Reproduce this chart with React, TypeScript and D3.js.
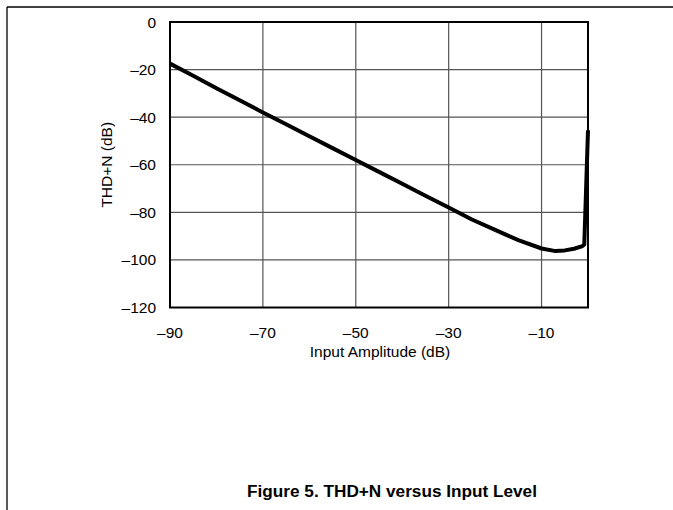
import React from "react";
import * as d3 from "d3";

const inputDb = [-90, -85, -80, -75, -70, -65, -60, -55, -50, -45, -40, -35, -30, -25, -20, -15, -10, -7, -5, -3, -1.2, -0.8, 0];
const thdDb = [-17.5, -22.6, -27.8, -32.9, -38.0, -43.0, -48.0, -53.0, -58.0, -63.0, -68.0, -73.0, -78.0, -83.0, -87.4, -91.7, -95.2, -96.3, -96.0, -95.3, -94.2, -93.5, -45.5];

const xTicks = [-90, -70, -50, -30, -10];
const yTicks = [0, -20, -40, -60, -80, -100, -120];
const xGrid = [-70, -50, -30, -10];
const yGrid = [-20, -40, -60, -80, -100];

const W = 673;
const H = 510;
const FONT = "'Liberation Sans', Arial, Helvetica, sans-serif";

const fmt = (v: number) => (v < 0 ? "\u2013" + Math.abs(v) : String(v));

export default function App() {
  const x = d3.scaleLinear().domain([-90, 0]).range([170, 588]);
  const y = d3.scaleLinear().domain([-120, 0]).range([307.5, 22]);
  const data = inputDb.map((d, i) => [d, thdDb[i]] as [number, number]);
  const line = d3
    .line<[number, number]>()
    .x((d) => x(d[0]))
    .y((d) => y(d[1]));

  return (
    <svg
      width={W}
      height={H}
      style={{ position: "absolute", left: 0, top: 0, background: "#fff" }}
      fontFamily={FONT}
    >
      <rect x={0} y={0} width={W} height={H} fill="#fff" />
      {/* page frame */}
      <line x1={7} y1={7} x2={W} y2={7} stroke="#000" strokeWidth={1.3} />
      <line x1={7} y1={7} x2={7} y2={H} stroke="#000" strokeWidth={1.3} />

      {/* grid */}
      {xGrid.map((v) => (
        <line key={"gx" + v} x1={x(v)} x2={x(v)} y1={y(0)} y2={y(-120)} stroke="#555" strokeWidth={1.2} />
      ))}
      {yGrid.map((v) => (
        <line key={"gy" + v} x1={x(-90)} x2={x(0)} y1={y(v)} y2={y(v)} stroke="#555" strokeWidth={1.2} />
      ))}

      {/* plot border */}
      <rect
        x={x(-90)}
        y={y(0)}
        width={x(0) - x(-90)}
        height={y(-120) - y(0)}
        fill="none"
        stroke="#000"
        strokeWidth={2}
      />

      {/* curve */}
      <path d={line(data) || ""} fill="none" stroke="#000" strokeWidth={4} strokeLinejoin="round" strokeLinecap="butt" />

      {/* y tick labels */}
      {yTicks.map((v) => (
        <text key={"yt" + v} x={156} y={y(v) + 5.5} textAnchor="end" fontSize={15.5} fill="#000">
          {fmt(v)}
        </text>
      ))}
      {/* x tick labels */}
      {xTicks.map((v) => (
        <text key={"xt" + v} x={x(v)} y={338} textAnchor="middle" fontSize={15.5} fill="#000">
          {fmt(v)}
        </text>
      ))}

      <text x={380} y={357} textAnchor="middle" fontSize={15.5} fill="#000">
        Input Amplitude (dB)
      </text>
      <text
        transform={`translate(112, ${(y(0) + y(-120)) / 2}) rotate(-90)`}
        textAnchor="middle"
        fontSize={15.5}
        fill="#000"
      >
        THD+N (dB)
      </text>

      <text x={392} y={497} textAnchor="middle" fontSize={17.2} fontWeight="bold" fill="#000">
        Figure 5. THD+N versus Input Level
      </text>
    </svg>
  );
}
